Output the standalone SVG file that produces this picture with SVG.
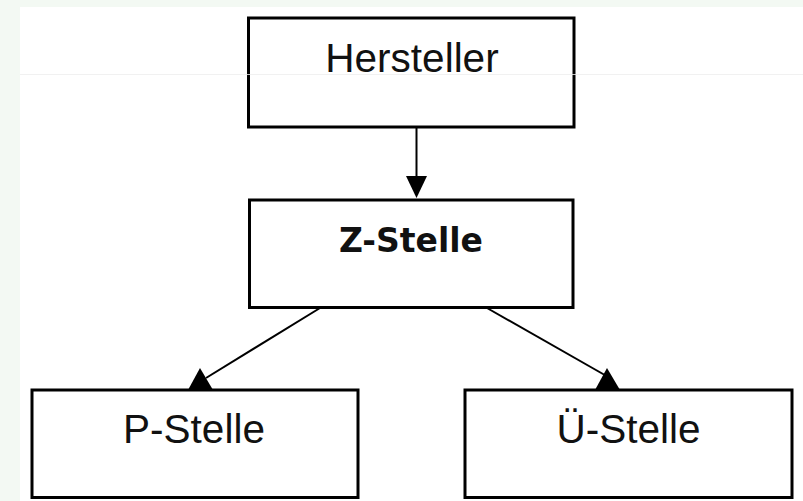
<svg xmlns="http://www.w3.org/2000/svg" width="803" height="501" viewBox="0 0 803 501">
  <style>
    .box { fill: #ffffff; stroke: #000000; stroke-width: 3; }
    .lbl { font-family: "Liberation Sans", Arial, sans-serif; font-size: 40.5px; fill: #111111; text-anchor: middle; }
    .bold { font-family: "DejaVu Sans", "Liberation Sans", sans-serif; font-weight: bold; font-size: 33px; }
    .edge { stroke: #000000; stroke-width: 2; fill: none; }
    .head { fill: #000000; stroke: none; }
  </style>
  <rect x="0" y="0" width="803" height="501" fill="#f3f9f3"/>
  <rect x="20" y="7" width="783" height="494" fill="#ffffff"/>

  <g id="connectors">
    <line class="edge" x1="416.5" y1="128" x2="416.5" y2="178"/>
    <polygon class="head" points="406,176 427,176 416.5,198"/>
    <line class="edge" x1="320" y1="308" x2="206" y2="378"/>
    <polygon class="head" points="200,368 188,390 213,390"/>
    <line class="edge" x1="487" y1="308" x2="610" y2="378"/>
    <polygon class="head" points="607,368 595,390 620,390"/>
  </g>

  <g id="hersteller">
    <rect class="box" x="248.5" y="18" width="325.5" height="109"/>
    <text class="lbl" x="412" y="72">Hersteller</text>
  </g>
  <g id="z-stelle">
    <rect class="box" x="249.5" y="200" width="323.5" height="107.5"/>
    <text class="lbl bold" x="411" y="252">Z-Stelle</text>
  </g>
  <g id="p-stelle">
    <rect class="box" x="32" y="390" width="326" height="107.5"/>
    <text class="lbl" x="194" y="443">P-Stelle</text>
  </g>
  <g id="u-stelle">
    <rect class="box" x="465" y="390" width="327" height="107.5"/>
    <text class="lbl" x="628.5" y="443">Ü-Stelle</text>
  </g>

  <line x1="20" y1="74.5" x2="803" y2="74.5" stroke="#eeeeee" stroke-width="1" opacity="0.8"/>
</svg>
